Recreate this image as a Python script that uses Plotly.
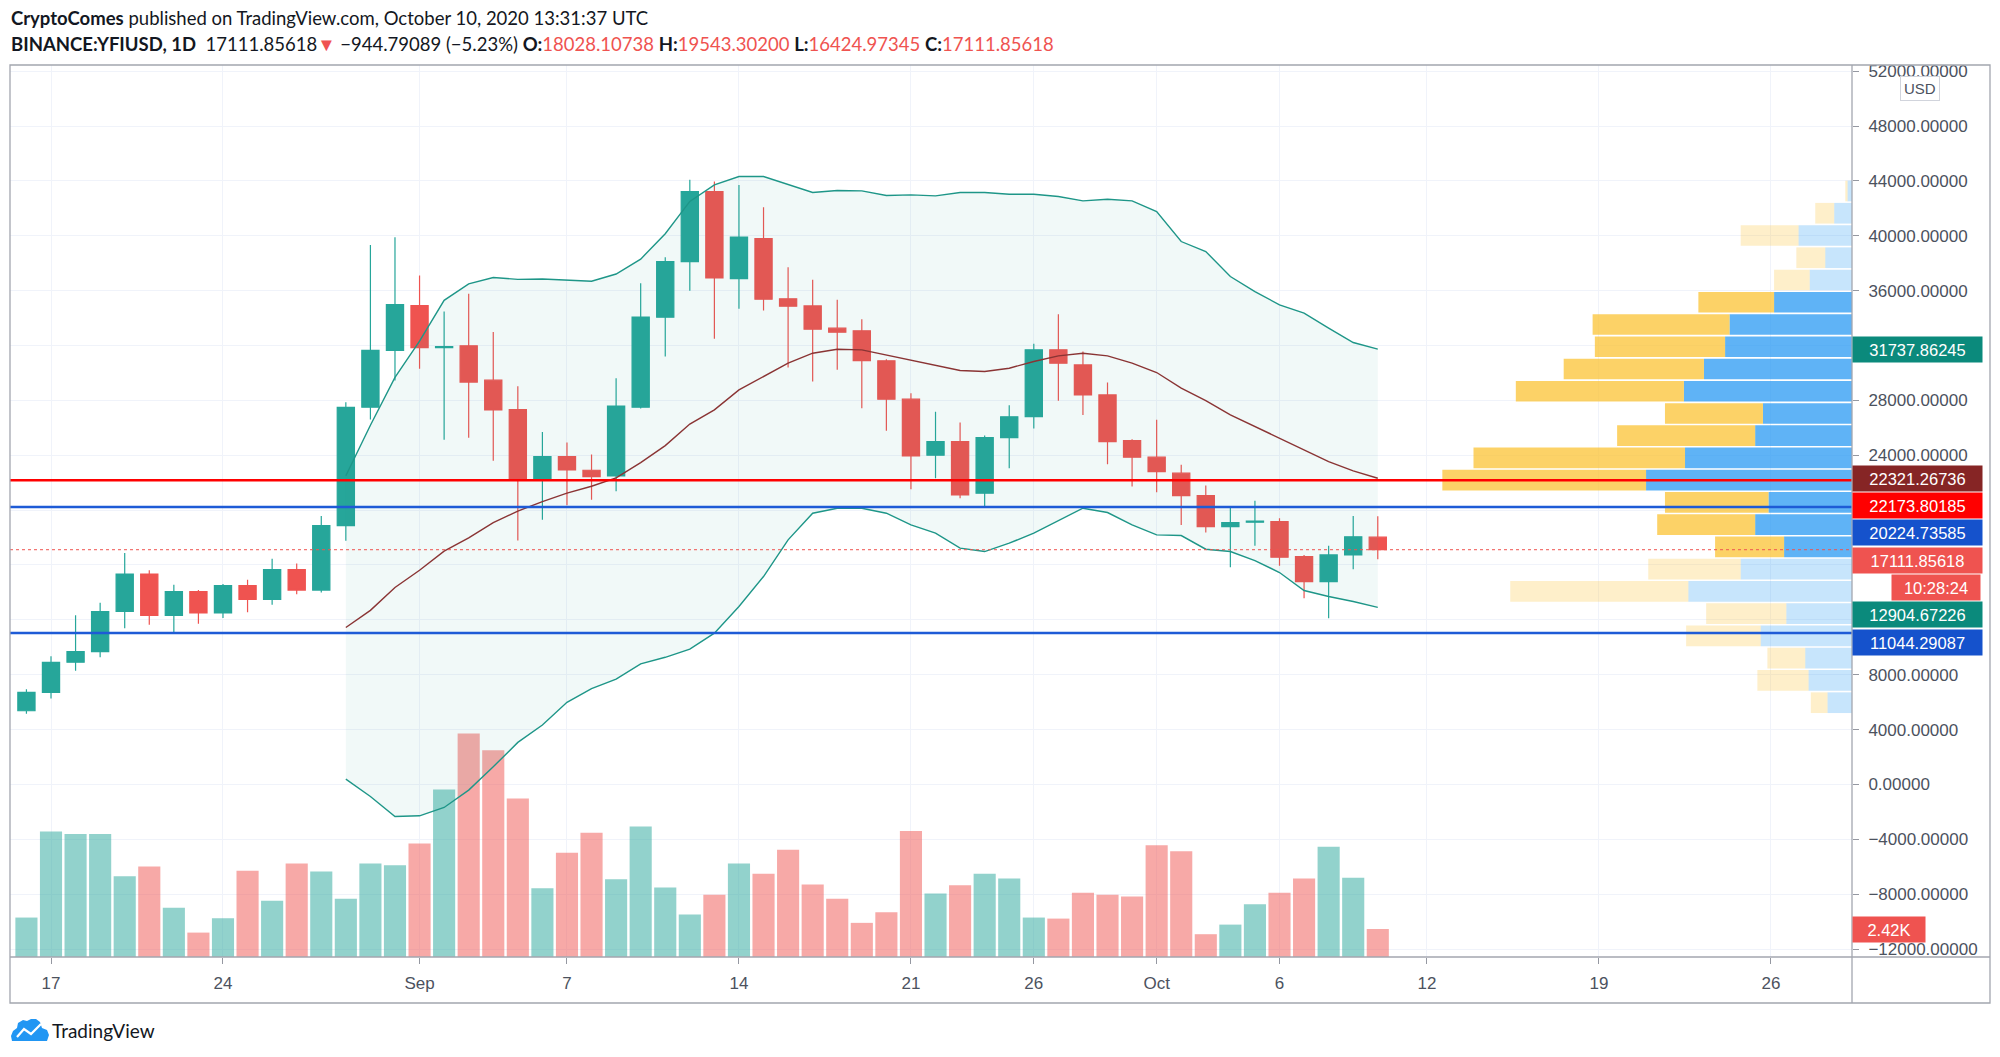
import numpy as np
import pandas as pd
import plotly.graph_objects as go

# ---------------- data ----------------
FIRST_DAY = "2020-08-16"
OPEN = [5371, 6707, 8906, 9686, 12608, 15335, 12330, 14055, 12496, 14500, 13498, 15669, 14166, 18869, 27497, 31643,
        34900, 31838, 31977, 29473, 27330, 22181, 23907, 22905, 22487, 27497, 34065, 38119, 43222, 36880,
        39796, 35398, 34887, 33259, 33065, 30878, 28083, 24001, 24997, 21231, 25289, 26820, 31680, 30586, 28399, 25070,
        23855, 22689, 21061, 18801, 19117, 19165, 16614, 14792, 16735, 18028.10738]
HIGH = [6930, 9352, 12330, 13248, 16866, 15613, 14556, 14166, 14611, 14918, 16448, 16114, 19565, 27859, 39325, 39881,
        37098, 34482, 35762, 32979, 29027, 25688, 24936, 24046, 29612, 36542, 38434, 44073, 43951, 43708,
        42080, 37706, 36783, 35325, 33915, 31000, 28521, 27160, 26383, 25435, 27646, 32117, 34280, 31558, 29299, 25168,
        26577, 23297, 21790, 20210, 20672, 19408, 16735, 17392, 19578, 19543.30200]
LOW = [5148, 6263, 8294, 9268, 11383, 11633, 11105, 11717, 12134, 12552, 13108, 13860, 14000, 17757, 26606, 29445,
       30308, 25131, 25270, 23600, 17784, 19287, 20344, 20762, 21374, 27413, 31198, 35981, 32482, 34669,
       34547, 30392, 29371, 30222, 27427, 25775, 21522, 22324, 20866, 20259, 23053, 25945, 27962, 26941, 23345, 21717,
       21304, 18922, 18363, 15836, 17392, 15934, 13576, 12118, 15691, 16424.97345]
CLOSE = [6707, 8906, 9686, 12608, 15335, 12330, 14055, 12496, 14500, 13498, 15669, 14166, 18869, 27497, 31643, 34983,
         31838, 31922, 29333, 27302, 22181, 23907, 22933, 22432, 27580, 34065, 38119, 43222, 36929, 39893,
         35373, 34863, 33186, 32968, 30902, 28083, 23952, 24997, 21109, 25289, 26796, 31680, 30708, 28399, 24997, 23855,
         22810, 21061, 18801, 19092, 19189, 16565, 14792, 16735, 18056.64707, 17111.85618]
VOLUME_K = [3.41, 10.84, 10.64, 10.64, 6.99, 7.83, 4.25, 2.11, 3.35, 7.46, 4.86, 8.09, 7.40, 5.03, 8.09, 7.92,
            9.80, 14.48, 19.31, 17.86, 13.70, 5.95, 9.02, 10.75, 6.73, 11.27, 6.01, 3.67, 5.38, 8.09,
            7.20, 9.28, 6.27, 5.03, 2.95, 3.87, 10.90, 5.49, 6.21, 7.20, 6.79, 3.41, 3.32, 5.55, 5.38, 5.23,
            9.65, 9.13, 1.97, 2.80, 4.57, 5.55, 6.79, 9.54, 6.85, 2.42]

BB_START = "2020-08-29"
BB_UPPER = [22500, 26189, 29667, 32311, 35289, 36486, 36959, 36820, 36848, 36737, 36681, 37209, 38295, 40150, 42500,
            43708, 44316, 44316, 43708, 43150, 43295, 43271, 42931, 42979, 42906, 43150, 43150, 43028, 43028, 42858,
            42542, 42663, 42542, 41764, 39577, 38848, 37026, 35932, 34960, 34353, 33259, 32214, 31737.86245]
BB_BASIS = [11439, 12691, 14361, 15613, 17005, 17979, 19092, 19927, 20623, 21235, 21736, 22348, 23461, 24700, 26270,
            27306, 28764, 29736, 30708, 31437, 31729, 31680, 31315, 30951, 30586, 30173, 30100, 30343, 30829, 31242,
            31437, 31242, 30708, 30028, 28885, 27986, 26941, 26091, 25240, 24390, 23539, 22859, 22321.26736]
BB_LOWER = [389, -875, -2335, -2286, -1678, -413, 1290, 3064, 4329, 5990, 6986, 7682, 8795, 9268, 9860,
            11025, 12969, 15156, 17829, 19773, 20137, 20137, 19773, 18922, 18315, 17222, 16978, 17586, 18315, 19238,
            20137, 19821, 18922, 18193, 18144, 17148, 16978, 16322, 15447, 14135, 13698, 13333, 12904.67226]

LEVEL_RED = 22173.80185
LEVEL_BLUE_HI = 20224.73585
LEVEL_BLUE_LO = 11044.29087

# visible-range volume profile, rows from bottom to top (K)
PROFILE_UP_K = [2.2, 3.9, 4.2, 8.2, 5.9, 14.7, 10.0, 6.1, 8.7, 7.5, 18.5, 15.0,
                8.7, 8.0, 15.1, 13.3, 11.4, 11.0, 7.0, 3.8, 2.4, 4.8, 1.6, 0.4]
PROFILE_DOWN_K = [1.5, 4.6, 3.4, 6.7, 7.2, 16.0, 8.3, 6.2, 8.8, 9.3, 18.3, 19.0,
                  12.4, 8.8, 15.1, 12.6, 11.7, 12.3, 6.8, 3.2, 2.6, 5.2, 1.7, 0.2]
VALUE_AREA_ROWS = (7, 18)

DATE_TICKS = ["2020-08-17", "2020-08-24", "2020-09-01", "2020-09-07", "2020-09-14", "2020-09-21",
              "2020-09-26", "2020-10-01", "2020-10-06", "2020-10-12", "2020-10-19", "2020-10-26"]
DATE_TICK_TEXT = ["17", "24", "Sep", "7", "14", "21", "26", "Oct", "6", "12", "19", "26"]
PRICE_TICKS = list(range(-12000, 52001, 4000))
COUNTDOWN = "10:28:24"

# ---------------- layout constants (page pixels) ----------------
PAGE_W, PAGE_H = 2000, 1057
BODY = 8                      # browser body margin
FIG_W, FIG_H = PAGE_W - 2 * BODY, PAGE_H - 2 * BODY
PL, PR, PT, PB = 10, 1852, 65, 957
Y_MIN, Y_MAX = -12580, 52447
X_RANGE = ["2020-08-15 07:57", "2020-10-29 07:13"]
VOL_AXIS_MAX = 77.1
PROFILE_WIDTH_FRAC = 0.2224
FONT = "Liberation Sans, Arial, sans-serif"
HEAD_FONT = "Lato, Liberation Sans, sans-serif"
TXT = "#131722"
AX_TXT = "#4C525E"
GRID = "#F0F3FA"
FRAME = "#A3A6AF"
GREEN, RED = "#26A69A", "#EF5350"


def px_x(p):
    return (p - PL) / (PR - PL)


def px_y(p):
    return (PB - p) / (PB - PT)


def val_to_py(v):
    return PT + (Y_MAX - v) / (Y_MAX - Y_MIN) * (PB - PT)


def vol_to_py(v):
    return PB - v / VOL_AXIS_MAX * (PB - PT)


dates = pd.date_range(FIRST_DAY, periods=len(CLOSE), freq="D")
bb_dates = pd.date_range(BB_START, periods=len(BB_UPPER), freq="D")
up_day = [c >= o for o, c in zip(OPEN, CLOSE)]

fig = go.Figure()

# volume (own hidden scale, bottom of pane)
fig.add_trace(go.Bar(
    x=dates, y=VOLUME_K, xaxis="x", yaxis="y",
    marker=dict(color=["rgba(38,166,154,0.5)" if u else "rgba(239,83,80,0.5)" for u in up_day], line=dict(width=0)),
    width=0.9 * 86400000, hoverinfo="skip", showlegend=False))

# Bollinger bands
fig.add_trace(go.Scatter(x=bb_dates, y=BB_UPPER, xaxis="x", yaxis="y2", mode="lines",
                         line=dict(color="#1E9688", width=1.4), hoverinfo="skip", showlegend=False))
fig.add_trace(go.Scatter(x=bb_dates, y=BB_LOWER, xaxis="x", yaxis="y2", mode="lines",
                         line=dict(color="#1E9688", width=1.4), fill="tonexty",
                         fillcolor="rgba(38,166,154,0.065)", hoverinfo="skip", showlegend=False))
fig.add_trace(go.Scatter(x=bb_dates, y=BB_BASIS, xaxis="x", yaxis="y2", mode="lines",
                         line=dict(color="#8A3434", width=1.4), hoverinfo="skip", showlegend=False))

# candles
fig.add_trace(go.Candlestick(
    x=dates, open=OPEN, high=HIGH, low=LOW, close=CLOSE, xaxis="x", yaxis="y2",
    increasing=dict(line=dict(color=GREEN, width=1.2), fillcolor=GREEN),
    decreasing=dict(line=dict(color=RED, width=1.2), fillcolor=RED),
    whiskerwidth=0, hoverinfo="skip", showlegend=False))

# volume profile
edges = np.linspace(min(LOW), max(HIGH), len(PROFILE_UP_K) + 1)
centers = (edges[:-1] + edges[1:]) / 2
row_h = edges[1] - edges[0]
in_va = [VALUE_AREA_ROWS[0] <= i <= VALUE_AREA_ROWS[1] for i in range(len(centers))]
fig.add_trace(go.Bar(
    x=PROFILE_UP_K, y=centers, orientation="h", xaxis="x2", yaxis="y2", width=row_h * 0.93,
    marker=dict(color=["rgba(33,150,243,0.72)" if v else "rgba(33,150,243,0.25)" for v in in_va], line=dict(width=0)),
    hoverinfo="skip", showlegend=False))
fig.add_trace(go.Bar(
    x=PROFILE_DOWN_K, base=PROFILE_UP_K, y=centers, orientation="h", xaxis="x2", yaxis="y2", width=row_h * 0.93,
    marker=dict(color=["rgba(251,192,45,0.72)" if v else "rgba(251,192,45,0.25)" for v in in_va], line=dict(width=0)),
    hoverinfo="skip", showlegend=False))

profile_max = max(u + d for u, d in zip(PROFILE_UP_K, PROFILE_DOWN_K))

shapes = []
# horizontal levels
for lvl, col in [(LEVEL_RED, "#FF0000"), (LEVEL_BLUE_HI, "#1E5BD6"), (LEVEL_BLUE_LO, "#1E5BD6")]:
    shapes.append(dict(type="line", xref="paper", yref="y2", x0=0, x1=1, y0=lvl, y1=lvl,
                       line=dict(color=col, width=2.6), layer="above"))
shapes.append(dict(type="line", xref="paper", yref="y2", x0=0, x1=1, y0=CLOSE[-1], y1=CLOSE[-1],
                   line=dict(color=RED, width=1, dash="dot"), layer="above"))
# frame
shapes.append(dict(type="rect", xref="paper", yref="paper", x0=px_x(10), x1=px_x(1990), y0=px_y(1003), y1=px_y(65),
                   line=dict(color=FRAME, width=1.3), layer="above"))
shapes.append(dict(type="line", xref="paper", yref="paper", x0=1, x1=1, y0=px_y(1003), y1=px_y(65),
                   line=dict(color=FRAME, width=1.3), layer="above"))
shapes.append(dict(type="line", xref="paper", yref="paper", x0=px_x(10), x1=px_x(1990), y0=0, y1=0,
                   line=dict(color=FRAME, width=1.3), layer="above"))


# TradingView logo (simple cloud)
def path_px(points, close=True):
    s = ""
    for i, (a, b) in enumerate(points):
        s += ("M" if i == 0 else "L") + f"{px_x(a):.5f},{px_y(b):.5f} "
    return s + ("Z" if close else "")


cloud = [(12, 1041), (47, 1041), (49, 1035), (47, 1030), (42, 1028), (40, 1022), (36, 1019), (31, 1019),
         (27, 1021), (23, 1020), (18, 1023), (17, 1028), (13, 1031), (11, 1036)]
shapes.append(dict(type="path", xref="paper", yref="paper", path=path_px(cloud),
                   fillcolor="#2196F3", line=dict(width=0), layer="above"))
shapes.append(dict(type="path", xref="paper", yref="paper",
                   path=path_px([(17, 1037), (24, 1029), (31, 1034), (41, 1024)], close=False),
                   line=dict(color="white", width=2.2), layer="above"))

annotations = []
# header
chg = CLOSE[-1] - CLOSE[-2]
pct = chg / CLOSE[-2] * 100
r = lambda v: f"<span style='color:{RED}'>{v:.5f}</span>"
line1 = "<b>CryptoComes</b> published on TradingView.com, October 10, 2020 13:31:37 UTC"
line2 = (f"<b>BINANCE:YFIUSD, 1D</b>  {CLOSE[-1]:.5f}<span style='color:{RED}'>▼</span> "
         f"{chg:.5f} ({pct:.2f}%) ".replace("-", "−")
         + f"<b>O:</b>{r(OPEN[-1])} <b>H:</b>{r(HIGH[-1])} <b>L:</b>{r(LOW[-1])} <b>C:</b>{r(CLOSE[-1])}")
annotations.append(dict(text=line1, xref="paper", yref="paper", x=px_x(9), y=px_y(18), xanchor="left",
                        yanchor="middle", showarrow=False, font=dict(family=HEAD_FONT, size=18.5, color=TXT)))
annotations.append(dict(text=line2, xref="paper", yref="paper", x=px_x(9), y=px_y(44), xanchor="left",
                        yanchor="middle", showarrow=False, font=dict(family=HEAD_FONT, size=18.5, color=TXT)))
# footer
annotations.append(dict(text="TradingView", xref="paper", yref="paper", x=px_x(50), y=px_y(1030), xanchor="left",
                        yanchor="middle", showarrow=False, font=dict(family=HEAD_FONT, size=19, color=TXT)))
# USD badge
annotations.append(dict(text="USD", xref="paper", yref="paper", x=px_x(1920), y=px_y(89), xanchor="center",
                        yanchor="middle", showarrow=False, font=dict(family=FONT, size=15, color=AX_TXT),
                        bordercolor="#D1D4DC", borderwidth=1, borderpad=3, bgcolor="white"))

# price-scale labels, stacked so they don't overlap
STEP = 27.3
labels = [(BB_UPPER[-1], "#0B8A7C"), (BB_BASIS[-1], "#862525"), (LEVEL_RED, "#FF0000"),
          (LEVEL_BLUE_HI, "#1552CC"), (CLOSE[-1], RED), (BB_LOWER[-1], "#0B8A7C"), (LEVEL_BLUE_LO, "#1552CC")]
labels.sort(key=lambda t: -t[0])
box_centers = []
prev = -1e9
for v, col in labels:
    cy = max(val_to_py(v), prev + STEP)
    box_centers.append(cy)
    annotations.append(dict(text=f"{v:.5f}", xref="paper", yref="paper", x=1, y=px_y(cy), xanchor="left",
                            yanchor="middle", showarrow=False, width=127, height=23, bgcolor=col, borderpad=1,
                            align="center", font=dict(family=FONT, size=16.5, color="white")))
    prev = cy
    if v == CLOSE[-1]:
        cy = prev + STEP
        box_centers.append(cy)
        annotations.append(dict(text=COUNTDOWN, xref="paper", yref="paper", x=px_x(1891), y=px_y(cy),
                                xanchor="left", yanchor="middle", showarrow=False, width=86, height=23,
                                bgcolor=col, borderpad=1, align="center",
                                font=dict(family=FONT, size=16.5, color="white")))
        prev = cy
# volume label
box_centers.append(vol_to_py(VOLUME_K[-1]))
annotations.append(dict(text=f"{VOLUME_K[-1]:.2f}K", xref="paper", yref="y", x=1, y=VOLUME_K[-1],
                        xanchor="left", yanchor="middle", showarrow=False, width=70, height=23,
                        bgcolor=RED, borderpad=1, align="center", font=dict(family=FONT, size=16.5, color="white")))

# price tick labels hidden where a label box covers them (as TradingView does)
price_ticktext = []
for t in PRICE_TICKS:
    covered = any(abs(val_to_py(t) - c) < 19 for c in box_centers)
    price_ticktext.append("" if covered else f"{t:.5f}".replace("-", "−"))

fig.update_layout(
    width=FIG_W, height=FIG_H, paper_bgcolor="white", plot_bgcolor="white",
    margin=dict(l=PL - BODY, r=(BODY + FIG_W) - PR, t=PT - BODY, b=(BODY + FIG_H) - PB, pad=0),
    barmode="overlay", boxgap=0.3, boxgroupgap=0, showlegend=False, hovermode=False,
    font=dict(family=FONT, color=AX_TXT, size=17),
    xaxis=dict(type="date", range=X_RANGE, tickvals=DATE_TICKS, ticktext=DATE_TICK_TEXT,
               showgrid=True, gridcolor=GRID, gridwidth=1, zeroline=False, showline=False,
               ticks="outside", ticklen=6, tickcolor="#9598A1", ticklabelstandoff=5,
               tickfont=dict(family=FONT, size=17, color=AX_TXT), rangeslider=dict(visible=False),
               fixedrange=True),
    yaxis=dict(range=[0, VOL_AXIS_MAX], visible=False, fixedrange=True),
    yaxis2=dict(range=[Y_MIN, Y_MAX], overlaying="y", side="right", anchor="x", tickmode="array",
                tickvals=PRICE_TICKS, ticktext=price_ticktext, showgrid=True, gridcolor=GRID, zeroline=False,
                showline=False, ticks="outside", ticklen=6, tickcolor="#9598A1", ticklabelstandoff=6,
                tickfont=dict(family=FONT, size=17, color=AX_TXT), fixedrange=True),
    xaxis2=dict(range=[profile_max / PROFILE_WIDTH_FRAC, 0], overlaying="x", anchor="y2", visible=False,
                fixedrange=True),
    shapes=shapes, annotations=annotations,
)

fig.write_html("out.html")
